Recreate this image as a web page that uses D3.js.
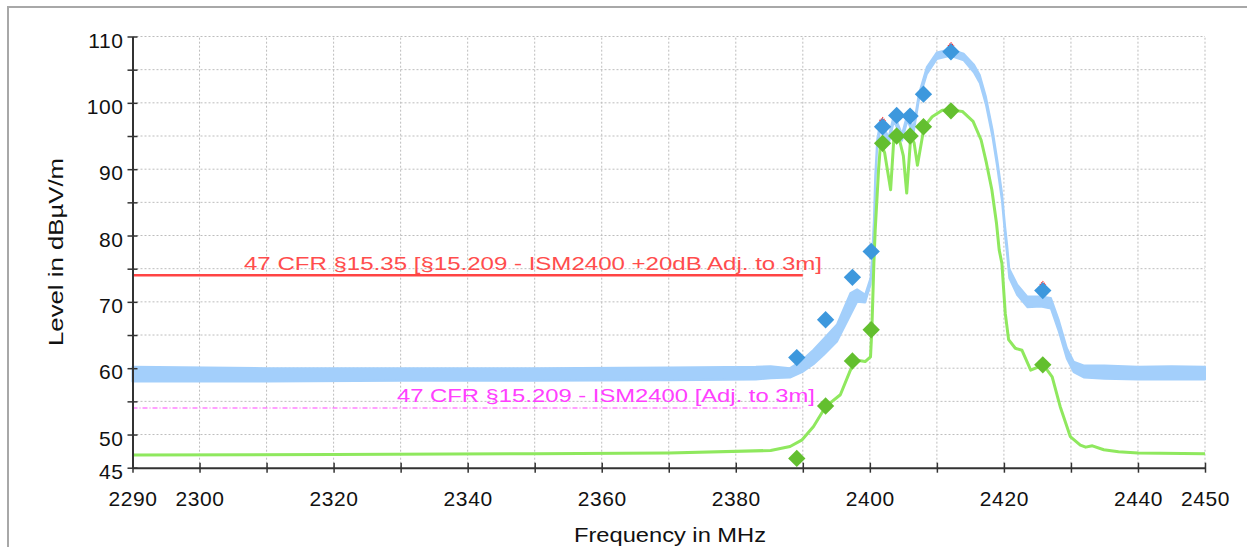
<!DOCTYPE html>
<html>
<head>
<meta charset="utf-8">
<script src="https://cdn.jsdelivr.net/npm/d3@7"></script>
<style>
    html, body { margin: 0; padding: 0; background: #fff; }
    svg { display: block; font-family: "Liberation Sans", Arial, sans-serif; }
</style>
</head>
<body>
<div id="chart"></div>
<script>
// peak trace: [MHz, low, high] of the noise band (dBµV/m)
const peakTrace = [
    [2290, 58.0, 60.2], [2310, 58.0, 60.0], [2330, 58.1, 60.0], [2350, 58.1, 60.0],
    [2370, 58.2, 60.1], [2383, 58.3, 60.2], [2385.2, 58.5, 60.3], [2388.1, 58.6, 60.0],
    [2389.9, 59.4, 61.2], [2391.6, 60.6, 62.8], [2393.1, 62.0, 64.4], [2395.1, 64.0, 66.6],
    [2397.1, 68.0, 71.3], [2398.1, 70.0, 71.9], [2399.3, 69.9, 71.1], [2400.1, 72.6, 73.6],
    [2400.3, 75.2, 76.2], [2400.6, 79.2, 82.2], [2400.8, 87.5, 89.0], [2401.1, 93.3, 94.5],
    [2401.6, 96.2, 97.4], [2402.8, 93.8, 94.8], [2403.6, 97.3, 98.3], [2404.8, 94.3, 95.3],
    [2405.6, 97.3, 98.3], [2406.5, 95.3, 96.3], [2407.3, 100.3, 101.3], [2408.5, 104.3, 105.4],
    [2410.0, 106.6, 107.6], [2412.0, 107.1, 108.1], [2414.0, 106.4, 107.4], [2415.5, 104.6, 105.8],
    [2416.4, 103.0, 104.2], [2417.3, 99.8, 101.0], [2418.3, 94.8, 96.0], [2419.0, 90.3, 91.5],
    [2419.7, 85.3, 86.5], [2420.2, 79.8, 81.2], [2420.5, 76.8, 78.4], [2420.8, 73.6, 75.0],
    [2422.0, 71.0, 72.6], [2423.5, 69.2, 70.8], [2425.5, 69.3, 70.8], [2427.0, 69.0, 70.6],
    [2428.2, 65.5, 67.2], [2429.4, 61.4, 63.0], [2430.4, 59.4, 61.0], [2431.9, 58.6, 60.4],
    [2435, 58.4, 60.4], [2440, 58.3, 60.2], [2445, 58.3, 60.3], [2450, 58.3, 60.2]
];

// average trace: [MHz, dBµV/m]
const avgTrace = [
    [2290, 46.9], [2320, 47.0], [2350, 47.1], [2370, 47.2], [2385.2, 47.6], [2388.1, 48.2],
    [2389.9, 49.2], [2391.6, 51.2], [2393.4, 54.2], [2395.6, 56.0], [2397.1, 59.7], [2398.1, 61.2],
    [2399.3, 61.0], [2400.1, 61.7], [2400.3, 65.8], [2400.6, 75.8], [2400.8, 80.8], [2401.3, 89.9],
    [2401.6, 93.9], [2402.2, 92.5], [2403.1, 86.9], [2403.6, 94.9], [2404.2, 95.3], [2405.0, 92.0],
    [2405.5, 86.4], [2406.1, 94.9], [2406.6, 94.0], [2407.1, 90.6], [2408.1, 96.4], [2409.3, 97.9],
    [2410.8, 98.9], [2412.3, 98.9], [2413.8, 98.7], [2415.4, 97.2], [2416.6, 94.4], [2417.4, 90.9],
    [2418.2, 86.9], [2418.9, 81.8], [2419.3, 77.8], [2419.7, 75.8], [2420.2, 68.3], [2420.7, 64.3],
    [2421.7, 63.0], [2422.7, 62.7], [2424.0, 59.7], [2425.9, 60.5], [2427.2, 58.7], [2428.4, 54.2],
    [2429.9, 49.7], [2431.4, 48.4], [2432.2, 48.1], [2433.2, 48.3], [2434.9, 47.7], [2437.1, 47.4],
    [2440, 47.2], [2450, 47.1]
];

// final measurement points
const markerFreqs = [2389.1, 2393.4, 2397.4, 2400.2, 2401.9, 2404.0, 2406.0, 2408.0, 2412.1, 2425.8];
const peakMarkerLevels = [61.6, 67.3, 73.7, 77.6, 96.4, 98.1, 98.0, 101.3, 107.7, 71.7];
const avgMarkerLevels = [46.4, 54.3, 61.1, 65.8, 93.9, 95.0, 95.0, 96.4, 98.8, 60.5];
const flaggedFreqs = [2401.9, 2412.1, 2425.8];

// limit lines
const limits = [
    { name: '47 CFR §15.35 [§15.209 - ISM2400 +20dB Adj. to 3m]', from: 2290, to: 2390, level: 74 },
    { name: '47 CFR §15.209 - ISM2400 [Adj. to 3m]', from: 2290, to: 2390, level: 54 }
];

const xTicks = d3.range(2290, 2451, 10);
const xLabels = [2290, 2300, 2320, 2340, 2360, 2380, 2400, 2420, 2440, 2450];
const yTicks = d3.range(45, 111, 5);
const yLabels = [45, 50, 60, 70, 80, 90, 100, 110];

const W = 1247, H = 547;
const svg = d3.select('#chart').append('svg').attr('width', W).attr('height', H);

// outer frame
svg.append('rect').attr('x', 8).attr('y', 7).attr('width', W + 10).attr('height', H + 10)
    .attr('fill', '#fff').attr('stroke', '#a8a8a8').attr('stroke-width', 2);

const x = d3.scaleLinear().domain([2290, 2450]).range([132.5, 1205]);
const y = d3.scaleLinear().domain([45, 110]).range([467.7, 36.5]);

// grid
const grid = svg.append('g').attr('stroke', '#bdbdbd').attr('stroke-width', 1)
    .attr('stroke-dasharray', '2,2');
grid.selectAll('.gx').data(xTicks.filter(d => d > 2290)).enter().append('line')
    .attr('x1', d => x(d)).attr('x2', d => x(d)).attr('y1', y(45)).attr('y2', y(110));
grid.selectAll('.gy').data(yTicks.filter(d => d > 45)).enter().append('line')
    .attr('x1', x(2290)).attr('x2', x(2450)).attr('y1', d => y(d)).attr('y2', d => y(d));

// peak trace band
const band = d3.area().x(d => x(d[0])).y0(d => y(d[1])).y1(d => y(d[2]));
svg.append('path').datum(peakTrace).attr('d', band)
    .attr('fill', '#a3cffb').attr('stroke', '#a3cffb').attr('stroke-width', 2)
    .attr('stroke-linejoin', 'round');

// average trace
const line = d3.line().x(d => x(d[0])).y(d => y(d[1]));
svg.append('path').datum(avgTrace).attr('d', line)
    .attr('fill', 'none').attr('stroke', '#8fe85e').attr('stroke-width', 3)
    .attr('stroke-linejoin', 'round');

// limit lines
svg.append('line')
    .attr('x1', x(limits[0].from)).attr('x2', x(limits[0].to))
    .attr('y1', y(limits[0].level)).attr('y2', y(limits[0].level))
    .attr('stroke', '#ff4444').attr('stroke-width', 2.5);
svg.append('text')
    .attr('x', 244).attr('y', y(limits[0].level) - 5)
    .attr('textLength', 578).attr('lengthAdjust', 'spacingAndGlyphs')
    .style('font-size', '18px').style('fill', '#ff4d4d')
    .text(limits[0].name);

svg.append('line')
    .attr('x1', x(limits[1].from)).attr('x2', x(limits[1].to))
    .attr('y1', y(limits[1].level)).attr('y2', y(limits[1].level))
    .attr('stroke', '#ff44ff').attr('stroke-width', 1.2)
    .attr('stroke-dasharray', '5,2,1,2');
svg.append('text')
    .attr('x', 397).attr('y', y(limits[1].level) - 6)
    .attr('textLength', 418).attr('lengthAdjust', 'spacingAndGlyphs')
    .style('font-size', '18px').style('fill', '#ff40ff')
    .text(limits[1].name);

// markers
const diamond = d3.symbol().type(d3.symbolSquare).size(150);
const drawMarkers = (levels, color) => {
    svg.append('g').selectAll('path').data(markerFreqs.map((f, i) => [f, levels[i]])).enter()
        .append('path')
        .attr('d', diamond)
        .attr('transform', d => `translate(${x(d[0])},${y(d[1])}) rotate(45)`)
        .attr('fill', color);
};
drawMarkers(peakMarkerLevels, '#3d98dd');
drawMarkers(avgMarkerLevels, '#63bf2f');

// flagged points (small red marks on top of the diamonds)
svg.append('g').selectAll('path').data(flaggedFreqs).enter().append('path')
    .attr('d', d => {
        const i = markerFreqs.indexOf(d);
        const cx = x(d), cy = y(peakMarkerLevels[i]) - 8;
        return `M${cx - 3},${cy + 2}L${cx},${cy - 1}L${cx + 3},${cy + 2}`;
    })
    .attr('fill', 'none').attr('stroke', '#ff2020').attr('stroke-width', 1.2)
    .attr('stroke-dasharray', '1,1');

// axes
const xAxis = svg.append('g').attr('transform', `translate(0,${y(45)})`)
    .call(d3.axisBottom(x).tickValues(xTicks).tickSize(5).tickSizeOuter(0)
        .tickFormat(d => xLabels.includes(d) ? d : ''));
xAxis.select('.domain').attr('stroke', '#333').attr('stroke-width', 2);
xAxis.selectAll('.tick line').attr('y1', -5).attr('y2', 5).attr('stroke', '#333').attr('stroke-width', 1.5);
xAxis.selectAll('.tick text').attr('y', 0).attr('dy', 38)
    .style('font-size', '21px').style('fill', '#111').style('letter-spacing', '0.6px')
    .style('font-family', '"Liberation Sans", Arial, sans-serif');

const yAxis = svg.append('g').attr('transform', `translate(${x(2290)},0)`)
    .call(d3.axisLeft(y).tickValues(yTicks).tickSize(5).tickSizeOuter(0)
        .tickFormat(d => yLabels.includes(d) ? d : ''));
yAxis.select('.domain').attr('stroke', '#333').attr('stroke-width', 2);
yAxis.selectAll('.tick line').attr('x1', -5).attr('x2', 5).attr('stroke', '#333').attr('stroke-width', 1.5);
yAxis.selectAll('.tick text').attr('x', -9).attr('dy', '0.5em')
    .style('font-size', '21px').style('fill', '#111').style('letter-spacing', '0.6px')
    .style('font-family', '"Liberation Sans", Arial, sans-serif');

// axis titles
svg.append('text')
    .attr('transform', 'translate(63,252) rotate(-90)')
    .attr('text-anchor', 'middle')
    .attr('textLength', 188).attr('lengthAdjust', 'spacingAndGlyphs')
    .style('font-size', '20px').style('fill', '#111')
    .text('Level in dBµV/m');

svg.append('text')
    .attr('x', 670).attr('y', 542)
    .attr('text-anchor', 'middle')
    .attr('textLength', 192).attr('lengthAdjust', 'spacingAndGlyphs')
    .style('font-size', '20px').style('fill', '#111')
    .text('Frequency in MHz');
</script>
</body>
</html>
